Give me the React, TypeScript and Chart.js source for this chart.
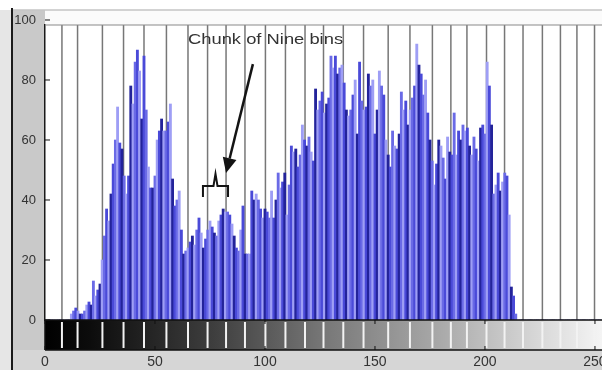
import React, { useEffect, useRef } from 'react';
import { Chart, registerables } from 'chart.js';

Chart.register(...registerables);

// Histogram counts for grey levels 0..255
const binCounts = [
  0, 0, 0, 0, 0, 0, 0, 0, 0, 0,
  0, 0, 2, 3, 4, 3, 2, 2, 3, 5,
  6, 5, 13, 8, 10, 12, 20, 28, 37, 33,
  42, 52, 60, 71, 59, 57, 48, 42, 48, 78,
  72, 86, 90, 83, 67, 88, 70, 51, 44, 44,
  48, 60, 63, 67, 63, 63, 66, 72, 47, 38,
  40, 43, 30, 22, 23, 24, 26, 28, 25, 30,
  34, 29, 24, 27, 30, 33, 31, 29, 28, 33,
  35, 37, 36, 36, 35, 32, 28, 24, 23, 30,
  38, 22, 22, 22, 43, 40, 42, 40, 37, 34,
  37, 36, 34, 43, 34, 40, 49, 44, 46, 49,
  35, 45, 58, 56, 57, 51, 55, 65, 60, 58,
  61, 56, 53, 77, 70, 73, 76, 69, 72, 74,
  88, 84, 88, 82, 84, 85, 79, 70, 68, 70,
  75, 80, 62, 86, 73, 70, 71, 82, 78, 80,
  62, 70, 83, 78, 75, 60, 55, 51, 63, 58,
  57, 62, 76, 70, 73, 65, 70, 74, 78, 92,
  85, 82, 75, 80, 69, 60, 53, 45, 52, 60,
  58, 54, 47, 61, 56, 55, 69, 55, 63, 60,
  65, 63, 64, 58, 55, 61, 57, 53, 64, 65,
  62, 86, 78, 65, 42, 45, 49, 43, 46, 49,
  48, 35, 11, 8, 2, 0, 0, 0, 0, 0,
  0, 0, 0, 0, 0, 0, 0, 0, 0, 0,
  0, 0, 0, 0, 0, 0, 0, 0, 0, 0,
  0, 0, 0, 0, 0, 0, 0, 0, 0, 0,
  0, 0, 0, 0, 0, 0,
];

// Chunk boundaries (grey level)
const chunkEdges = [
  7.7, 14.8, 26.1, 35.7, 45, 55.2, 65, 73.9, 82.3, 90.9, 100.2, 109.3, 118.2, 126.6,
  135.6, 144.8, 156, 165.9, 176.1, 184.5, 191.8, 200.7, 208.9, 217.3, 226.1, 234.3, 241.8, 249.8,
];

const yTickValues = [0, 20, 40, 60, 80, 100];
const xTickStep = 50;

// Annotation (in data units)
const annotationText = 'Chunk of Nine bins';
const textPos = { x: 65, y: 93.3, widthBins: 70.5 };
const arrowFrom = { x: 94.5, y: 85.3 };
const arrowTo = { x: 82.3, y: 49 };
const brace = { left: 71.8, right: 83.2, mid: 77.5, bar: 44.7, ends: 41, peak: 48.7 };

const barPalette = ['#4a4ad8', '#9e9ef5', '#23239a', '#6a6ae6'];
const colorSeq = [0, 1, 2, 0, 3, 1, 0, 2, 3, 1, 0, 2, 1, 3];

const FONT = "'Liberation Sans', Arial, sans-serif";

const decor = {
  id: 'decor',
  beforeDraw(chart: any) {
    const { ctx, width, height, chartArea } = chart;
    ctx.save();
    ctx.fillStyle = '#ffffff';
    ctx.fillRect(0, 0, width, height);
    // left outer strip
    ctx.fillStyle = '#e6e6e6';
    ctx.fillRect(0, 10, 12, height - 10);
    // grey panel
    ctx.fillStyle = '#c9c9c9';
    ctx.fillRect(12, 10, chartArea.left - 12, height - 10);
    // bottom strip
    ctx.fillStyle = '#d6d6d6';
    ctx.fillRect(12, 350, width - 12, height - 350);
    // top strip
    ctx.fillStyle = '#fbfbfb';
    ctx.fillRect(chartArea.left, 10, width - chartArea.left, chartArea.top - 10);
    // line at y=10
    ctx.strokeStyle = '#c4c4c4';
    ctx.lineWidth = 1.5;
    ctx.beginPath();
    ctx.moveTo(12, 10);
    ctx.lineTo(width, 10);
    ctx.stroke();
    // black vertical outer line
    ctx.strokeStyle = '#1a1a1a';
    ctx.lineWidth = 2;
    ctx.beginPath();
    ctx.moveTo(12, 8);
    ctx.lineTo(12, height);
    ctx.stroke();
    // plot area
    ctx.fillStyle = '#ffffff';
    ctx.fillRect(chartArea.left, chartArea.top, chartArea.right - chartArea.left, chartArea.bottom - chartArea.top);
    ctx.restore();
  },
  beforeDatasetsDraw(chart: any) {
    const { ctx, chartArea, scales } = chart;
    const xs = scales.x;
    ctx.save();
    ctx.strokeStyle = '#777777';
    ctx.lineWidth = 1.5;
    chunkEdges.forEach((e) => {
      const px = xs.getPixelForValue(e);
      ctx.beginPath();
      ctx.moveTo(px, chartArea.top);
      ctx.lineTo(px, chartArea.bottom);
      ctx.stroke();
    });
    // top frame
    ctx.strokeStyle = '#8a8a8a';
    ctx.lineWidth = 1.2;
    ctx.beginPath();
    ctx.moveTo(chartArea.left, chartArea.top);
    ctx.lineTo(chartArea.right, chartArea.top);
    ctx.stroke();
    ctx.restore();
  },
  afterDatasetsDraw(chart: any) {
    const { ctx, chartArea, scales } = chart;
    const xs = scales.x;
    const ys = scales.y;
    const px = (v: number) => xs.getPixelForValue(v);
    const py = (v: number) => ys.getPixelForValue(v);
    const cbTop = chartArea.bottom;
    const cbBot = chartArea.bottom + 30;
    ctx.save();
    // colour bar
    const g = ctx.createLinearGradient(px(0), 0, px(255), 0);
    g.addColorStop(0, '#000000');
    g.addColorStop(0.08, '#0c0c0c');
    g.addColorStop(0.3, '#3e3e3e');
    g.addColorStop(0.5, '#787878');
    g.addColorStop(0.7, '#a8a8a8');
    g.addColorStop(0.88, '#d8d8d8');
    g.addColorStop(1, '#f6f6f6');
    ctx.fillStyle = g;
    ctx.fillRect(chartArea.left, cbTop, chartArea.right - chartArea.left, cbBot - cbTop);
    ctx.strokeStyle = '#f2f2f2';
    ctx.lineWidth = 2;
    chunkEdges.forEach((e) => {
      const x = px(e);
      ctx.beginPath();
      ctx.moveTo(x, cbTop + 2);
      ctx.lineTo(x, cbBot - 2);
      ctx.stroke();
    });
    ctx.strokeStyle = '#111111';
    ctx.lineWidth = 1.5;
    ctx.beginPath();
    ctx.moveTo(chartArea.left, cbTop);
    ctx.lineTo(chartArea.right, cbTop);
    ctx.moveTo(chartArea.left, cbBot);
    ctx.lineTo(chartArea.right, cbBot);
    ctx.moveTo(chartArea.left, cbTop);
    ctx.lineTo(chartArea.left, cbBot);
    ctx.stroke();
    // x tick marks
    ctx.lineWidth = 1;
    xs.ticks.forEach((t: any) => {
      const x = px(t.value);
      ctx.beginPath();
      ctx.moveTo(x, cbTop);
      ctx.lineTo(x, cbTop + 4);
      ctx.moveTo(x, cbBot);
      ctx.lineTo(x, cbBot - 4);
      ctx.stroke();
    });
    // y tick marks (inward)
    ys.ticks.forEach((t: any) => {
      const y = py(t.value);
      ctx.beginPath();
      ctx.moveTo(chartArea.left, y);
      ctx.lineTo(chartArea.left + 5, y);
      ctx.stroke();
    });

    // annotation text
    ctx.font = `14px ${FONT}`;
    ctx.fillStyle = '#333333';
    ctx.textBaseline = 'middle';
    ctx.textAlign = 'left';
    const tx = px(textPos.x);
    const tw = px(textPos.x + textPos.widthBins) - tx;
    const mw = ctx.measureText(annotationText).width;
    ctx.save();
    ctx.translate(tx, py(textPos.y));
    ctx.scale(tw / mw, 1.05);
    ctx.fillText(annotationText, 0, 0);
    ctx.restore();

    // arrow
    const ax0 = px(arrowFrom.x), ay0 = py(arrowFrom.y);
    const ax1 = px(arrowTo.x), ay1 = py(arrowTo.y);
    const ang = Math.atan2(ay1 - ay0, ax1 - ax0);
    const headLen = 15, headW = 7;
    const bx = ax1 - headLen * Math.cos(ang), by = ay1 - headLen * Math.sin(ang);
    ctx.strokeStyle = '#141414';
    ctx.lineWidth = 2.5;
    ctx.beginPath();
    ctx.moveTo(ax0, ay0);
    ctx.lineTo(bx, by);
    ctx.stroke();
    ctx.fillStyle = '#141414';
    ctx.beginPath();
    ctx.moveTo(ax1, ay1);
    ctx.lineTo(bx + headW * Math.sin(ang), by - headW * Math.cos(ang));
    ctx.lineTo(bx - headW * Math.sin(ang), by + headW * Math.cos(ang));
    ctx.closePath();
    ctx.fill();

    // brace
    const l = px(brace.left), r = px(brace.right), m = px(brace.mid);
    const yb = py(brace.bar), ye = py(brace.ends), yp = py(brace.peak);
    ctx.lineWidth = 2;
    ctx.beginPath();
    ctx.moveTo(l, ye);
    ctx.lineTo(l, yb);
    ctx.lineTo(m - 2, yb);
    ctx.lineTo(m, yp);
    ctx.lineTo(m + 2, yb);
    ctx.lineTo(r, yb);
    ctx.lineTo(r, ye);
    ctx.stroke();
    ctx.restore();
  },
};

export default function App() {
  const ref = useRef<HTMLCanvasElement>(null);
  useEffect(() => {
    document.body.style.margin = '0';
    const canvas = ref.current!;
    const chart = new Chart(canvas, {
      type: 'bar',
      data: {
        datasets: [
          {
            data: binCounts.map((v, i) => ({ x: i, y: v })),
            backgroundColor: binCounts.map((_, i) => barPalette[colorSeq[i % colorSeq.length]]),
            borderWidth: 0,
            barPercentage: 1,
            categoryPercentage: 1,
          } as any,
        ],
      },
      options: {
        responsive: false,
        animation: false,
        devicePixelRatio: 1,
        layout: { padding: { top: 25, left: 0, right: 0, bottom: 0 } },
        plugins: { legend: { display: false }, tooltip: { enabled: false } },
        scales: {
          x: {
            type: 'linear',
            min: 0,
            max: 253.2,
            offset: false,
            grid: { display: false, drawTicks: false },
            border: { display: false },
            ticks: {
              stepSize: xTickStep,
              includeBounds: false,
              autoSkip: false,
              maxRotation: 0,
              padding: 34,
              color: '#333333',
              font: { family: FONT, size: 14 },
            },
            afterFit: (s: any) => {
              s.height = 50;
              s.paddingLeft = 0;
              s.paddingRight = 0;
            },
          },
          y: {
            min: 0,
            max: 98.33,
            grid: { display: false, drawTicks: false },
            border: { display: true, color: '#1a1a1a', width: 1.5 },
            ticks: {
              autoSkip: false,
              padding: 9,
              color: '#333333',
              font: { family: FONT, size: 13 },
            },
            afterBuildTicks: (s: any) => {
              s.ticks = yTickValues.map((v) => ({ value: v }));
            },
            afterFit: (s: any) => {
              s.width = 45;
              s.paddingTop = 0;
              s.paddingBottom = 0;
            },
          },
        } as any,
      },
      plugins: [decor],
    });
    return () => chart.destroy();
  }, []);
  return (
    <div style={{ width: 602, height: 370 }}>
      <canvas ref={ref} width={602} height={370} style={{ width: 602, height: 370, display: 'block' }} />
    </div>
  );
}
